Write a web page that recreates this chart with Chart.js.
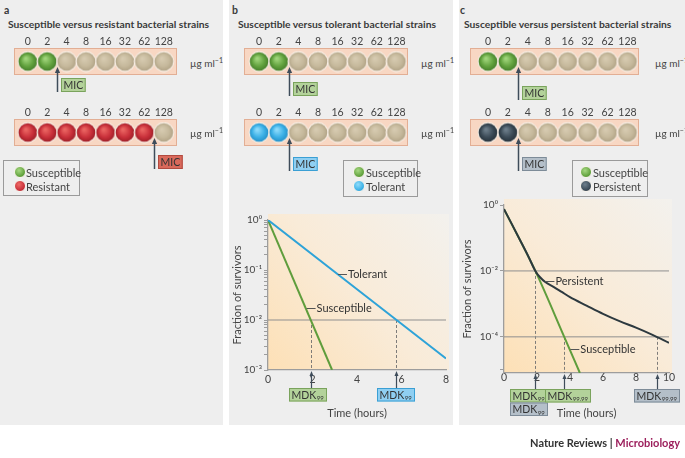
<!DOCTYPE html>
<html>
<head>
<meta charset="utf-8">
<script src="https://cdn.jsdelivr.net/npm/chart.js@4.4.1/dist/chart.umd.min.js"></script>
<style>
  body { margin: 0; background: #fff; }
  #page { position: relative; width: 685px; height: 458px; overflow: hidden;
          font-family: Lato, "Open Sans", sans-serif; color: #3a3a3a; }
  .panel { position: absolute; top: 0; height: 425px; background: #eeeeee; }
  .t { position: absolute; white-space: nowrap; line-height: 12px; }
  .letter { font-weight: bold; font-size: 10.5px; top: 4px; }
  .title { font-weight: bold; font-size: 10.3px; top: 18px; }
  .unit { font-size: 10px; color: #444; }
  canvas { position: absolute; }
  .legend { position: absolute; border: 1px solid #9a9a9a; box-sizing: border-box; }
  .li { position: absolute; left: 0; font-size: 11px; line-height: 12px; color: #444; white-space: nowrap; }
  .dot { position: absolute; width: 12px; height: 12px; border-radius: 50%; box-sizing: border-box;
         border: 1px solid #f6f1ea; }
  .footer { position: absolute; right: 5px; top: 436px; font-size: 11px; font-weight: bold; color: #333; }
</style>
</head>
<body>
<div id="page">
  <div class="panel" style="left:0;width:223px"></div>
  <div class="panel" style="left:229px;width:224px"></div>
  <div class="panel" style="left:459px;width:226px"></div>

  <div class="t letter" style="left:4px">a</div>
  <div class="t title" style="left:8px">Susceptible versus resistant bacterial strains</div>
  <div class="t letter" style="left:232px">b</div>
  <div class="t title" style="left:238px">Susceptible versus tolerant bacterial strains</div>
  <div class="t letter" style="left:460px">c</div>
  <div class="t title" style="left:464px">Susceptible versus persistent bacterial strains</div>

  <canvas id="stripA1" width="185" height="73" style="left:3px;top:32px"></canvas>
  <canvas id="stripA2" width="185" height="73" style="left:3px;top:103px"></canvas>
  <canvas id="stripB1" width="186" height="73" style="left:233px;top:32px"></canvas>
  <canvas id="stripB2" width="186" height="73" style="left:233px;top:103px"></canvas>
  <canvas id="stripC1" width="191" height="73" style="left:459px;top:32px"></canvas>
  <canvas id="stripC2" width="191" height="73" style="left:459px;top:103px"></canvas>

  <div class="t unit" style="left:190px;top:57px">µg ml<sup style="font-size:7px;line-height:0">−1</sup></div>
  <div class="t unit" style="left:190px;top:127px">µg ml<sup style="font-size:7px;line-height:0">−1</sup></div>
  <div class="t unit" style="left:421px;top:57px">µg ml<sup style="font-size:7px;line-height:0">−1</sup></div>
  <div class="t unit" style="left:421px;top:127px">µg ml<sup style="font-size:7px;line-height:0">−1</sup></div>
  <div class="t unit" style="left:655px;top:57px">µg ml<sup style="font-size:7px;line-height:0">−1</sup></div>
  <div class="t unit" style="left:655px;top:127px">µg ml<sup style="font-size:7px;line-height:0">−1</sup></div>

  <div class="legend" style="left:3px;top:160px;width:77px;height:36px">
    <span class="dot" style="left:10px;top:5px;background:radial-gradient(circle at 40% 35%,#a6d882,#62a23e 65%,#477f2b)"></span>
    <div class="li" style="left:22px;top:6px">Susceptible</div>
    <span class="dot" style="left:10px;top:19px;background:radial-gradient(circle at 40% 35%,#ee6a66,#c9303a 65%,#9e1f27)"></span>
    <div class="li" style="left:22px;top:20px">Resistant</div>
  </div>
  <div class="legend" style="left:343px;top:160px;width:75px;height:37px">
    <span class="dot" style="left:9px;top:5px;background:radial-gradient(circle at 40% 35%,#a6d882,#62a23e 65%,#477f2b)"></span>
    <div class="li" style="left:22px;top:6px">Susceptible</div>
    <span class="dot" style="left:9px;top:19px;background:radial-gradient(circle at 40% 35%,#8fdcfb,#3bb0e6 65%,#2590c8)"></span>
    <div class="li" style="left:22px;top:20px">Tolerant</div>
  </div>
  <div class="legend" style="left:572px;top:160px;width:76px;height:37px">
    <span class="dot" style="left:7px;top:5px;background:radial-gradient(circle at 40% 35%,#a6d882,#62a23e 65%,#477f2b)"></span>
    <div class="li" style="left:20px;top:6px">Susceptible</div>
    <span class="dot" style="left:7px;top:19px;background:radial-gradient(circle at 40% 35%,#6f808d,#3b4a56 65%,#27333c)"></span>
    <div class="li" style="left:20px;top:20px">Persistent</div>
  </div>

  <canvas id="chartB" width="224" height="225" style="left:229px;top:200px"></canvas>
  <canvas id="chartC" width="226" height="235" style="left:459px;top:190px"></canvas>

  <div class="footer">Nature Reviews | <span style="color:#9c1f5c">Microbiology</span></div>
</div>

<script>
// ---- data ----
const concentrations = ['0', '2', '4', '8', '16', '32', '62', '128'];   // µg/ml
const susceptibleGrowth = [1, 1, 0, 0, 0, 0, 0, 0];
const resistantGrowth   = [1, 1, 1, 1, 1, 1, 1, 0];
const tolerantGrowth    = [1, 1, 0, 0, 0, 0, 0, 0];
const persistentGrowth  = [1, 1, 0, 0, 0, 0, 0, 0];

// panel b: killing curves
const timeTicksB = [0, 2, 4, 6, 8];
const yLabelsB = [1, 0.1, 0.01, 0.001];
const timeSusceptibleB = [0, 2.88];
const survSusceptibleB = [1, 0.001];
const timeTolerantB = [0, 8];
const survTolerantB = [1, 0.0017];
const refLevelsB = [0.01];
const mdkTimesB = [1.93, 5.75];
const mdkLevelsB = [0.01, 0.01];

// panel c: killing curves
const timeTicksC = [0, 2, 4, 6, 8, 10];
const yTicksC = [1, 0.01, 0.0001, 0.00001];
const yLabelsC = [1, 0.01, 0.0001];
const timePersistentC = [0, 0.5, 1, 1.5, 1.9, 2.2, 2.5, 3, 3.5, 4, 5, 6, 7, 8, 9, 10];
const survPersistentC = [0.75, 0.25, 0.081, 0.026, 0.01, 0.0063, 0.0046, 0.0033, 0.0023, 0.0016,
                         0.00089, 0.0005, 0.0003, 0.00019, 0.000115, 0.000066];
const timeSusceptibleC = [0, 1.9, 3.65, 4.6];
const survSusceptibleC = [0.75, 0.01, 0.0001, 0.000008];
const refLevelsC = [0.01, 0.0001];
const mdkTimesC = [1.85, 3.65, 9.3];
const mdkLevelsC = [0.01, 0.0001, 0.0001];

// ---- style ----
const FONT = 'Lato, "Open Sans", sans-serif';
const GREEN = '#5f9d3c', BLUE = '#2ea3d8', DARK = '#2d393f';
const BOX = {
  green: ['#b3d29a', '#7aa35c'],
  red:   ['#d9695b', '#b14a3f'],
  blue:  ['#8fcff2', '#3a9fd4'],
  gray:  ['#b4bfc9', '#7d8b98']
};
Chart.defaults.font.family = FONT;
Chart.defaults.color = '#444';

function wellImage(light, base, dark) {
  const c = document.createElement('canvas');
  c.width = c.height = 22;
  const g = c.getContext('2d');
  g.beginPath(); g.arc(11, 11, 10.4, 0, Math.PI * 2);
  g.fillStyle = '#f7efe6'; g.fill();
  const grd = g.createRadialGradient(9, 8, 1, 11, 11, 9.6);
  grd.addColorStop(0, light); grd.addColorStop(0.6, base); grd.addColorStop(1, dark);
  g.beginPath(); g.arc(11, 11, 9.3, 0, Math.PI * 2);
  g.fillStyle = grd; g.fill();
  return c;
}
const beigeWell = wellImage('#d6cab0', '#c6b99c', '#b1a386');
const greenWell = wellImage('#9fd47a', '#62a23e', '#467f2b');
const redWell   = wellImage('#ea6461', '#c9303a', '#9e1f27');
const blueWell  = wellImage('#8bdafb', '#3bb0e6', '#2590c8');
const darkWell  = wellImage('#6b7c89', '#3b4a56', '#27333c');

const stripPlugin = {
  id: 'strip',
  beforeDatasetsDraw(chart) {
    const { ctx, chartArea: a } = chart;
    ctx.save();
    ctx.fillStyle = '#f8d7c3';
    ctx.fillRect(a.left, a.top, a.right - a.left, a.bottom - a.top);
    ctx.strokeStyle = '#e2ae94'; ctx.lineWidth = 1;
    ctx.strokeRect(a.left + 0.5, a.top + 0.5, a.right - a.left - 1, a.bottom - a.top - 1);
    ctx.restore();
  },
  afterDatasetsDraw(chart, args, o) {
    const { ctx, chartArea: a, scales: { x } } = chart;
    const ax = Math.round(x.getPixelForValue(o.mic)) + 0.5;
    const boxTop = a.bottom + o.boxTop, boxH = 14;
    ctx.save();
    ctx.strokeStyle = '#3e4c5a'; ctx.fillStyle = '#3e4c5a'; ctx.lineWidth = 1.5;
    ctx.beginPath(); ctx.moveTo(ax, boxTop + boxH); ctx.lineTo(ax, a.bottom - 4); ctx.stroke();
    ctx.beginPath(); ctx.moveTo(ax, a.bottom - 8); ctx.lineTo(ax - 2.6, a.bottom - 2);
    ctx.lineTo(ax + 2.6, a.bottom - 2); ctx.closePath(); ctx.fill();
    ctx.font = '10.5px ' + FONT;
    const w = ctx.measureText('MIC').width + 5;
    const bx = Math.round(ax + 3);
    ctx.fillStyle = BOX[o.color][0]; ctx.fillRect(bx, boxTop, w, boxH);
    ctx.strokeStyle = BOX[o.color][1]; ctx.lineWidth = 1;
    ctx.strokeRect(bx + 0.5, boxTop + 0.5, w - 1, boxH - 1);
    ctx.fillStyle = '#333'; ctx.textAlign = 'center'; ctx.textBaseline = 'middle';
    ctx.fillText('MIC', bx + w / 2, boxTop + boxH / 2 + 0.5);
    ctx.restore();
  }
};

function stripChart(id, growth, well, color, min, max, boxTop) {
  const mic = growth.indexOf(0) - 0.5;
  new Chart(document.getElementById(id), {
    type: 'scatter',
    data: {
      datasets: [{
        data: growth.map((g, i) => ({ x: i, y: 0.5 })),
        pointStyle: growth.map(g => g ? well : beigeWell),
        pointRadius: 10
      }]
    },
    options: {
      responsive: false, animation: false, devicePixelRatio: 1, events: [],
      layout: { padding: { left: 1, right: 1, top: 0, bottom: 30 } },
      plugins: { legend: { display: false }, tooltip: { enabled: false },
                 strip: { mic: mic, color: color, boxTop: boxTop } },
      scales: {
        x: {
          type: 'linear', position: 'top', min: min, max: max,
          afterBuildTicks: sc => { sc.ticks = concentrations.map((c, i) => ({ value: i })); },
          afterFit: sc => { sc.height = 16; },
          grid: { display: false, drawTicks: false }, border: { display: false },
          ticks: { padding: 0, autoSkip: false, maxRotation: 0, font: { size: 10.5 }, color: '#444',
                   callback: v => concentrations[v] }
        },
        y: { display: false, min: 0, max: 1 }
      }
    },
    plugins: [stripPlugin]
  });
}

stripChart('stripA1', susceptibleGrowth, greenWell, 'green', -0.71, 7.68, 3);
stripChart('stripA2', resistantGrowth, redWell, 'red', -0.71, 7.68, 9);
stripChart('stripB1', susceptibleGrowth, greenWell, 'green', -0.77, 7.59, 7);
stripChart('stripB2', tolerantGrowth, blueWell, 'blue', -0.77, 7.59, 11);
stripChart('stripC1', susceptibleGrowth, greenWell, 'green', -0.9, 7.58, 11);
stripChart('stripC2', persistentGrowth, darkWell, 'gray', -0.9, 7.58, 11);

// ---- killing curve charts ----
const SUP = { '0': '⁰', '1': '¹', '2': '²', '3': '³', '4': '⁴', '5': '⁵', '-': '⁻' };
function powLabel(v, labelled) {
  if (!labelled.some(l => Math.abs(l - v) / l < 1e-6)) return '';
  const e = Math.round(Math.log10(v));
  return '10' + String(e).split('').map(ch => SUP[ch]).join('');
}

function curve(ts, vs, color, order) {
  return { data: ts.map((t, i) => ({ x: t, y: vs[i] })), showLine: true, borderColor: color,
           borderWidth: 2, pointRadius: 0, order: order, cubicInterpolationMode: 'monotone' };
}
function refLine(level, x0, x1) {
  return { data: [{ x: x0, y: level }, { x: x1, y: level }], showLine: true,
           borderColor: '#8f8f8f', borderWidth: 1, pointRadius: 0, order: 10 };
}

function yAt(meta, px) {
  const pts = meta.data;
  for (let i = 0; i < pts.length - 1; i++) {
    if (pts[i].x <= px && px <= pts[i + 1].x) {
      const f = (px - pts[i].x) / (pts[i + 1].x - pts[i].x);
      return pts[i].y + f * (pts[i + 1].y - pts[i].y);
    }
  }
  return pts[pts.length - 1].y;
}

const killPlugin = {
  id: 'kill',
  beforeDraw(chart) {
    const { ctx, chartArea: a } = chart;
    const g = ctx.createLinearGradient(a.left, a.bottom, a.right, a.top - 6);
    g.addColorStop(0, '#fde0b6');
    g.addColorStop(0.5, '#f9ebd8');
    g.addColorStop(1, '#f3f1ed');
    ctx.save();
    ctx.fillStyle = g;
    ctx.fillRect(a.left, a.top - 6, a.right - a.left + 3, a.bottom - a.top + 6);
    ctx.restore();
  },
  beforeDatasetsDraw(chart, args, o) {
    const { ctx, chartArea: a, scales: { x, y } } = chart;
    ctx.save();
    ctx.setLineDash([3, 2]); ctx.strokeStyle = '#6f6f6f'; ctx.lineWidth = 0.9;
    o.drops.forEach((t, i) => {
      const px = Math.round(x.getPixelForValue(t)) + 0.5;
      ctx.beginPath(); ctx.moveTo(px, y.getPixelForValue(o.dropLevels[i])); ctx.lineTo(px, a.bottom); ctx.stroke();
    });
    ctx.restore();
  },
  afterDatasetsDraw(chart, args, o) {
    const { ctx, chartArea: a, scales: { x } } = chart;
    ctx.save();
    // curve labels with leader ticks
    ctx.font = '11px ' + FONT; ctx.textBaseline = 'middle';
    o.labels.forEach(l => {
      const px = x.getPixelForValue(l.t);
      const py = yAt(chart.getDatasetMeta(l.ds), px);
      ctx.strokeStyle = '#555'; ctx.lineWidth = 1;
      ctx.beginPath(); ctx.moveTo(px + 1, Math.round(py) + 0.5); ctx.lineTo(px + 10, Math.round(py) + 0.5); ctx.stroke();
      ctx.fillStyle = '#333'; ctx.fillText(l.text, px + 11, py + 0.5);
    });
    // MDK boxes
    o.boxes.forEach(b => {
      const tx = x.getPixelForValue(o.drops[b.i]);
      ctx.font = '10.5px ' + FONT; const w1 = ctx.measureText('MDK').width;
      ctx.font = '6px ' + FONT; const w2 = ctx.measureText(b.sub).width;
      const w = Math.round(w1 + w2 + 6), h = 13.5;
      const top = a.bottom + o.boxTop + b.row * h;
      const left = Math.round(tx + b.dx - w / 2);
      ctx.fillStyle = BOX[b.color][0]; ctx.fillRect(left, top, w, h);
      ctx.strokeStyle = BOX[b.color][1]; ctx.lineWidth = 1;
      ctx.strokeRect(left + 0.5, top + 0.5, w - 1, h - 1);
      ctx.fillStyle = '#333'; ctx.textBaseline = 'middle'; ctx.textAlign = 'left';
      ctx.font = '10.5px ' + FONT; ctx.fillText('MDK', left + 2.5, top + h / 2 + 0.5);
      ctx.font = '6px ' + FONT; ctx.fillText(b.sub, left + 3 + w1, top + h / 2 + 3.5);
      if (b.row === 0) {
        const ax = Math.round(tx) + 0.5;
        ctx.strokeStyle = '#3e4c5a'; ctx.fillStyle = '#3e4c5a'; ctx.lineWidth = 1.2;
        ctx.beginPath(); ctx.moveTo(ax, top); ctx.lineTo(ax, a.bottom + 5); ctx.stroke();
        ctx.beginPath(); ctx.moveTo(ax, a.bottom + 1); ctx.lineTo(ax - 2, a.bottom + 6);
        ctx.lineTo(ax + 2, a.bottom + 6); ctx.closePath(); ctx.fill();
      }
    });
    ctx.restore();
  }
};

function killOptions(o) {
  return {
    responsive: false, animation: false, devicePixelRatio: 1, events: [],
    layout: { padding: { left: 0, right: o.padRight, top: o.padTop, bottom: 0 } },
    plugins: { legend: { display: false }, tooltip: { enabled: false }, kill: o.kill },
    scales: {
      x: {
        type: 'linear', min: o.xTicks[0], max: o.xTicks[o.xTicks.length - 1],
        afterBuildTicks: sc => { sc.ticks = o.xTicks.map(v => ({ value: v })); },
        afterFit: sc => { sc.height = o.xHeight; },
        grid: { drawOnChartArea: false, drawTicks: false }, border: { color: '#9d9d9d', width: 1.3 },
        ticks: { padding: o.xPad, font: { size: 10.5 }, color: '#444', maxRotation: 0 },
        title: { display: true, text: 'Time (hours)', font: { size: 11 }, color: '#444', padding: { top: 0, bottom: 5 } }
      },
      y: {
        type: 'logarithmic', min: o.yMin, max: 1,
        afterBuildTicks: sc => { sc.ticks = o.yTicks.map(v => ({ value: v })); },
        afterFit: sc => { sc.width = o.yWidth; },
        grid: { drawOnChartArea: false, drawTicks: true, tickLength: 4, color: '#9d9d9d' },
        border: { color: '#9d9d9d', width: 1.3 },
        ticks: { padding: 2, autoSkip: false, font: { size: 10 }, color: '#444', callback: v => powLabel(v, o.yLabels) },
        title: { display: true, text: 'Fraction of survivors', font: { size: 11 }, color: '#444', padding: { top: 2, bottom: 0 } }
      }
    }
  };
}

// y tick positions for panel b: decades with minor ticks
const yTicksB = [];
for (let e = -3; e <= 0; e++) for (let k = 1; k <= 9; k++) { if (k * Math.pow(10, e) <= 1) yTicksB.push(k * Math.pow(10, e)); }

new Chart(document.getElementById('chartB'), {
  type: 'scatter',
  data: {
    datasets: [
      curve(timeSusceptibleB, survSusceptibleB, GREEN, 2),
      curve(timeTolerantB, survTolerantB, BLUE, 1),
      ...refLevelsB.map(v => refLine(v, timeTicksB[0], timeTicksB[timeTicksB.length - 1]))
    ]
  },
  options: killOptions({
    padRight: 7, padTop: 20, xHeight: 55, yWidth: 39, xPad: 3, yMin: 0.001,
    xTicks: timeTicksB, yTicks: yTicksB, yLabels: yLabelsB,
    kill: {
      drops: mdkTimesB, dropLevels: mdkLevelsB, boxTop: 18,
      labels: [{ text: 'Tolerant', ds: 1, t: 3.1 }, { text: 'Susceptible', ds: 0, t: 1.69 }],
      boxes: [{ i: 0, row: 0, sub: '99', color: 'green', dx: -3 },
              { i: 1, row: 0, sub: '99', color: 'blue', dx: 0 }]
    }
  }),
  plugins: [killPlugin]
});

new Chart(document.getElementById('chartC'), {
  type: 'scatter',
  data: {
    datasets: [
      curve(timeSusceptibleC, survSusceptibleC, GREEN, 2),
      curve(timePersistentC, survPersistentC, DARK, 1),
      ...refLevelsC.map(v => refLine(v, timeTicksC[0], timeTicksC[timeTicksC.length - 1]))
    ]
  },
  options: killOptions({
    padRight: 16, padTop: 15, xHeight: 52, yWidth: 45, xPad: -2, yMin: 0.000008,
    xTicks: timeTicksC, yTicks: yTicksC, yLabels: yLabelsC,
    kill: {
      drops: mdkTimesC, dropLevels: mdkLevelsC, boxTop: 16,
      labels: [{ text: 'Persistent', ds: 1, t: 2.45 }, { text: 'Susceptible', ds: 0, t: 3.96 }],
      boxes: [{ i: 0, row: 0, sub: '99', color: 'green', dx: -6 },
              { i: 0, row: 1, sub: '99', color: 'gray', dx: -6 },
              { i: 1, row: 0, sub: '99.99', color: 'green', dx: 4 },
              { i: 2, row: 0, sub: '99.99', color: 'gray', dx: 0 }]
    }
  }),
  plugins: [killPlugin]
});
</script>
</body>
</html>
